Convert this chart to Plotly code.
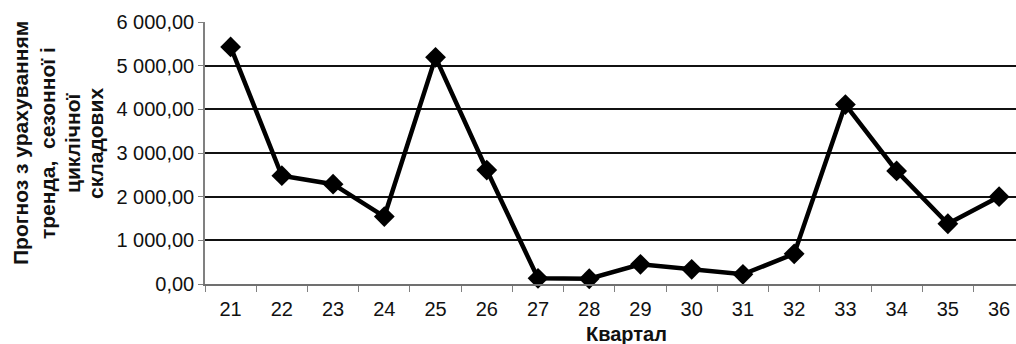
import plotly.graph_objects as go

quarters = ["21", "22", "23", "24", "25", "26", "27", "28", "29", "30", "31", "32", "33", "34", "35", "36"]
forecast = [5430, 2480, 2285, 1545, 5190, 2610, 130, 120, 450, 335, 222, 690, 4110, 2590, 1380, 2000]
y_title_lines = ["Прогноз з урахуванням", "тренда,  сезонної і", "циклічної", "складових"]
x_title = "Квартал"

W, H = 1016, 344
ML, MR, MT, MB = 205, 0, 22, 60
PW = W - ML - MR
PH = H - MT - MB

fig = go.Figure()
fig.add_trace(go.Scatter(
    x=quarters, y=forecast, mode="lines+markers",
    line=dict(color="#000000", width=4.5),
    marker=dict(symbol="diamond", size=16, color="#000000"),
    cliponaxis=False, showlegend=False,
))

font_family = "Liberation Sans, Arial, sans-serif"

fig.update_layout(
    width=W, height=H,
    margin=dict(l=ML, r=MR, t=MT, b=MB, autoexpand=False),
    paper_bgcolor="white", plot_bgcolor="white",
    separators=", ",
    font=dict(family=font_family, color="#111111", size=18),
    xaxis=dict(
        type="category", range=[-0.5, 15.33],
        tickson="boundaries", ticks="outside", ticklen=6, tickwidth=1, tickcolor="#808080",
        showline=True, linecolor="#707070", linewidth=2,
        showgrid=False, tickfont=dict(size=20, color="#111111"),
        ticklabelstandoff=6,
    ),
    yaxis=dict(
        range=[0, 6000], dtick=1000, tickformat=",.2f",
        ticks="outside", ticklen=5, tickwidth=1, tickcolor="#808080",
        showline=True, linecolor="#808080", linewidth=1.5,
        showgrid=True, gridcolor="#111111", gridwidth=2, zeroline=False,
        tickfont=dict(size=20, color="#111111"),
    ),
)

# y-axis title lines (rotated)
centers_px = [20, 47, 72, 95]
for txt, cx in zip(y_title_lines, centers_px):
    fig.add_annotation(
        text="<b>" + txt + "</b>", textangle=-90,
        xref="paper", yref="paper",
        x=(cx - ML) / PW, y=(MT + PH - 143) / PH,
        xanchor="center", yanchor="middle", showarrow=False,
        font=dict(size=21, color="#111111", family=font_family),
    )

fig.add_annotation(
    text="<b>" + x_title + "</b>", xref="paper", yref="paper",
    x=(626 - ML) / PW, y=(MT + PH - 334) / PH,
    xanchor="center", yanchor="middle", showarrow=False,
    font=dict(size=20, color="#111111", family=font_family),
)

fig.write_html(
    "out.html",
    config={"displayModeBar": False},
    post_script="document.body.style.margin='0';document.body.style.overflow='hidden';",
)
